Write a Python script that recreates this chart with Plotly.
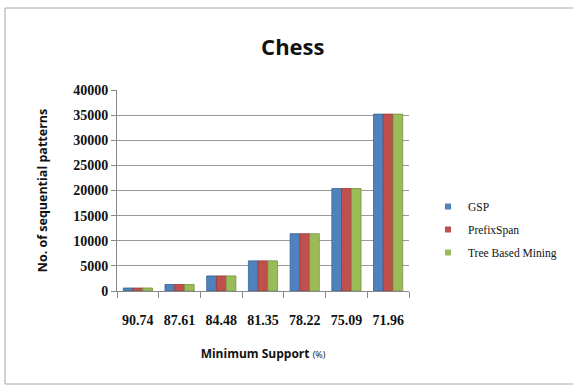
import plotly.graph_objects as go

categories = ["90.74", "87.61", "84.48", "81.35", "78.22", "75.09", "71.96"]
gsp = [600, 1300, 3000, 6000, 11400, 20400, 35200]
prefixspan = [600, 1300, 3000, 6000, 11400, 20400, 35200]
tree_based = [600, 1300, 3000, 6000, 11400, 20400, 35200]
series_names = ["GSP", "PrefixSpan", "Tree Based Mining"]
colors = ["#4F81BD", "#C0504D", "#9BBB59"]
edge_colors = ["#3A6496", "#963C3A", "#76923C"]

fig = go.Figure()
for name, vals, c, ec in zip(series_names, [gsp, prefixspan, tree_based], colors, edge_colors):
    fig.add_trace(go.Bar(
        x=categories, y=vals, name=name, showlegend=False,
        marker=dict(color=c, line=dict(color=ec, width=0.8)),
    ))
# legend entries with small square markers
for name, c in zip(series_names, colors):
    fig.add_trace(go.Scatter(
        x=[None], y=[None], mode="markers", name=name, legendgroup=name,
        marker=dict(symbol="square", size=6, color=c),
    ))

L, R, T, B = 117, 164, 90, 97
W, H = 573, 388
pw, ph = W - L - R, H - T - B

def px(x):
    return (x - L) / pw

def py(y):
    return (H - B - y) / ph

fig.update_layout(
    width=W, height=H,
    margin=dict(l=L, r=R, t=T, b=B, autoexpand=False),
    paper_bgcolor="white", plot_bgcolor="white",
    barmode="group", bargap=0.3, bargroupgap=0,
    title=dict(text="<b>Chess</b>", x=0.511, xanchor="center", y=0.877, yanchor="middle",
               font=dict(family="Open Sans", size=22, color="#111111")),
    xaxis=dict(
        type="category", showgrid=False, showline=True, linecolor="#888888", linewidth=1,
        ticks="outside", ticklen=6, tickcolor="#888888", tickson="boundaries",
        tickangle=0, ticklabelstandoff=16, automargin=False,
        tickfont=dict(family="Liberation Serif", size=14, color="#111111", weight="bold"),
        title=dict(text="<b>Minimum Support</b> <span style='font-size:9px'>(%)</span>",
                   font=dict(family="Open Sans", size=12, color="#111111"), standoff=22),
    ),
    yaxis=dict(
        range=[0, 40000], dtick=5000, showgrid=True, gridcolor="#9a9a9a", gridwidth=1.2,
        showline=True, linecolor="#888888", linewidth=1, ticks="outside", ticklen=5,
        tickcolor="#888888", zeroline=False, automargin=False,
        tickfont=dict(family="Liberation Serif", size=14, color="#111111", weight="bold"),
        tickformat="d",
        title=dict(text="<b>No. of sequential patterns</b>",
                   font=dict(family="Open Sans", size=12.5, color="#111111"), standoff=22),
    ),
    legend=dict(x=px(428), y=py(192), xanchor="left", yanchor="top",
                font=dict(family="Liberation Serif", size=11.5, color="#111111"),
                itemwidth=30, tracegroupgap=4, bgcolor="rgba(0,0,0,0)"),
    showlegend=True,
)

fig.add_shape(type="rect", xref="paper", yref="paper",
              x0=px(5), x1=px(580), y0=py(384), y1=py(8),
              line=dict(color="#a8a8a8", width=1), layer="below")

fig.write_html("out.html")
